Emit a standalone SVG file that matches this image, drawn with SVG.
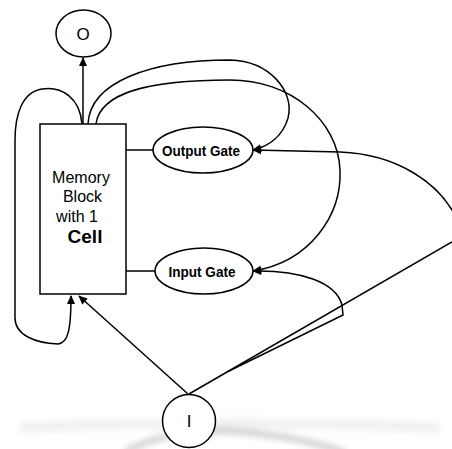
<svg xmlns="http://www.w3.org/2000/svg" width="452" height="449" viewBox="0 0 452 449">
  <defs>
    <marker id="arrow" viewBox="0 0 10 10" refX="9" refY="5" markerWidth="11" markerHeight="9" markerUnits="userSpaceOnUse" orient="auto">
      <path d="M0,0.5 L10,5 L0,9.5 Z" fill="#000"/>
    </marker>
    <filter id="soft" x="-20%" y="-50%" width="140%" height="200%">
      <feGaussianBlur stdDeviation="3"/>
    </filter>
    <style>
      .shape { fill: #fff; stroke: #000; stroke-width: 1.5; }
      .edge { fill: none; stroke: #000; stroke-width: 1.5; }
      .label { font-family: "Liberation Sans", Arial, sans-serif; fill: #000; }
      .gate { font-size: 15px; font-weight: bold; text-anchor: middle; }
      .body { font-size: 16px; }
    </style>
  </defs>

  <rect width="452" height="449" fill="#fff"/>

  <!-- soft floor shadow -->
  <g id="shadow" filter="url(#soft)">
    <path d="M20,428 C120,422 330,422 440,428" fill="none" stroke="#f0f0f0" stroke-width="10"/>
    <path d="M125,452 C160,433 200,429 230,431 C270,433 310,441 345,452" fill="none" stroke="#cdcdcd" stroke-width="6"/>
  </g>

  <!-- connectors -->
  <g id="connectors">
    <!-- cell to output node -->
    <path class="edge" d="M83,124 L83,58" marker-end="url(#arrow)"/>
    <!-- self-recurrent loop -->
    <path class="edge" d="M82,124 C80,98 62,86 42,89 C22,92 15,115 15,140 L15,318 C15,335 35,343 58,344 C68,343 71,330 71,296" marker-end="url(#arrow)"/>
    <!-- cell output to output gate -->
    <path class="edge" d="M88,124 C90,82 150,60 230,60 C270,61 295,92 288,118 C283,135 270,146 253,150" marker-end="url(#arrow)"/>
    <!-- cell output to input gate -->
    <path class="edge" d="M96,124 C100,92 150,80 230,80 C290,80 338,120 340,170 C342,215 310,262 253,271" marker-end="url(#arrow)"/>
    <!-- gate links -->
    <path class="edge" d="M126,150 L153,150"/>
    <path class="edge" d="M126,271 L155,271"/>
    <!-- input to cell -->
    <path class="edge" d="M188,394 L79,296" marker-end="url(#arrow)"/>
    <!-- input to output gate, leaving the frame on the right -->
    <path class="edge" d="M189,394 L462,236 L459,224 C442,182 395,154 340,152 L253,150" marker-end="url(#arrow)"/>
    <!-- input to input gate -->
    <path class="edge" d="M228,371.5 L343,315 L342,305 C336,282 300,270 253,271" marker-end="url(#arrow)"/>
  </g>

  <!-- nodes -->
  <g id="node-output">
    <ellipse class="shape" cx="83.5" cy="33.5" rx="27.5" ry="23.5"/>
    <text class="label" x="83" y="40" text-anchor="middle" font-size="17">O</text>
  </g>

  <g id="node-memory">
    <rect class="shape" x="40" y="124" width="86" height="170"/>
    <text class="label body" x="81" y="183" text-anchor="middle" font-size="16.5">Memory</text>
    <text class="label body" x="82.5" y="202" text-anchor="middle">Block</text>
    <text class="label body" x="77" y="222" text-anchor="middle">with 1</text>
    <text class="label" x="85" y="243" text-anchor="middle" font-size="19" font-weight="bold">Cell</text>
  </g>

  <g id="node-output-gate">
    <ellipse class="shape" cx="203" cy="150" rx="50" ry="23"/>
    <text class="label gate" x="201" y="155.5" textLength="78" lengthAdjust="spacingAndGlyphs">Output Gate</text>
  </g>

  <g id="node-input-gate">
    <ellipse class="shape" cx="204" cy="271" rx="49" ry="23"/>
    <text class="label gate" x="202" y="276.5" textLength="67" lengthAdjust="spacingAndGlyphs">Input Gate</text>
  </g>

  <g id="node-input">
    <circle class="shape" cx="189" cy="421" r="26.5"/>
    <text class="label" x="189" y="427" text-anchor="middle" font-size="17">I</text>
  </g>
</svg>
